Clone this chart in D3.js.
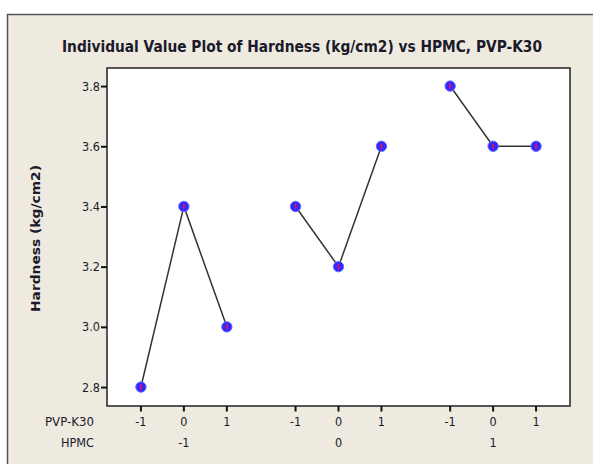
<!DOCTYPE html>
<html>
<head>
<meta charset="utf-8">
<script src="https://cdn.jsdelivr.net/npm/d3@7"></script>
<style>
  body { margin: 0; background: #fff; }
  svg { display: block; }
  text { font-family: "DejaVu Sans Condensed", "DejaVu Sans", sans-serif; }
</style>
</head>
<body>
<svg id="chart"></svg>
<script>
// data
const hpmcLevels = [-1, 0, 1];
const pvpLevels = [-1, 0, 1];
const hardness = [
  [2.8, 3.4, 3.0],   // HPMC -1
  [3.4, 3.2, 3.6],   // HPMC 0
  [3.8, 3.6, 3.6]    // HPMC 1
];
const yTicks = [2.8, 3.0, 3.2, 3.4, 3.6, 3.8];

const w = 593, h = 464;
const plot = { left: 107, right: 570, top: 68, bottom: 406 };
const groupGap = 0.6;

const svg = d3.select("#chart").attr("width", w).attr("height", h);

// beige frame
svg.append("rect").attr("x", 7.5).attr("y", 14.5).attr("width", 600).attr("height", 470)
  .attr("fill", "#eeeae0").attr("stroke", "#555").attr("stroke-width", 1.5);

// position of each (hpmc, pvp) cell along x
const pos = (g, k) => g * (pvpLevels.length + groupGap) + k;
const x = d3.scaleLinear()
  .domain([-0.79, pos(2, 2) + 0.79])
  .range([plot.left, plot.right]);
const y = d3.scaleLinear()
  .domain([2.737, 3.86])
  .range([plot.bottom, plot.top]);

// plot area
svg.append("rect")
  .attr("x", plot.left).attr("y", plot.top)
  .attr("width", plot.right - plot.left).attr("height", plot.bottom - plot.top)
  .attr("fill", "#fff").attr("stroke", "#222").attr("stroke-width", 1.5);

// title
svg.append("text")
  .attr("x", 302).attr("y", 52)
  .attr("text-anchor", "middle")
  .attr("font-size", 15).attr("font-weight", "bold").attr("fill", "#1a1a2a")
  .attr("textLength", 480).attr("lengthAdjust", "spacingAndGlyphs")
  .text("Individual Value Plot of Hardness (kg/cm2) vs HPMC, PVP-K30");

// y axis
const yAxis = d3.axisLeft(y).tickValues(yTicks).tickFormat(d3.format(".1f")).tickSize(6).tickPadding(1);
const gy = svg.append("g").attr("transform", `translate(${plot.left},0)`).call(yAxis);
gy.select(".domain").remove();
gy.selectAll(".tick line").attr("stroke", "#111").attr("stroke-width", 2);
gy.selectAll(".tick text").attr("font-size", 12.5).attr("fill", "#1a1a2a")
  .style("font-family", "'DejaVu Sans Condensed', sans-serif");

svg.append("text")
  .attr("transform", `translate(40,${(165 + 312) / 2}) rotate(-90)`)
  .attr("text-anchor", "middle")
  .attr("font-size", 13).attr("font-weight", "bold").attr("fill", "#1a1a2a")
  .attr("textLength", 147).attr("lengthAdjust", "spacingAndGlyphs")
  .text("Hardness (kg/cm2)");

// x axis: PVP-K30 ticks
const cells = [];
hpmcLevels.forEach((hv, g) => pvpLevels.forEach((pv, k) => cells.push({ g, k, hv, pv, val: hardness[g][k] })));

const gx = svg.append("g").attr("transform", `translate(0,${plot.bottom})`);
gx.selectAll("line").data(cells).enter().append("line")
  .attr("x1", d => x(pos(d.g, d.k))).attr("x2", d => x(pos(d.g, d.k)))
  .attr("y1", 0).attr("y2", 5.5)
  .attr("stroke", "#111").attr("stroke-width", 2);
gx.selectAll("text.pvp").data(cells).enter().append("text")
  .attr("class", "pvp")
  .attr("x", d => x(pos(d.g, d.k))).attr("y", 19.5)
  .attr("text-anchor", "middle").attr("font-size", 12.5).attr("fill", "#1a1a2a")
  .text(d => d.pv);
gx.selectAll("text.hpmc").data(hpmcLevels).enter().append("text")
  .attr("class", "hpmc")
  .attr("x", (d, g) => x(pos(g, 1))).attr("y", 40.5)
  .attr("text-anchor", "middle").attr("font-size", 12.5).attr("fill", "#1a1a2a")
  .text(d => d);

svg.append("text").attr("x", 94).attr("y", plot.bottom + 19.5)
  .attr("text-anchor", "end").attr("font-size", 12.5).attr("fill", "#1a1a2a")
  .attr("textLength", 49).attr("lengthAdjust", "spacingAndGlyphs").text("PVP-K30");
svg.append("text").attr("x", 94).attr("y", plot.bottom + 40.5)
  .attr("text-anchor", "end").attr("font-size", 12.5).attr("fill", "#1a1a2a")
  .attr("textLength", 33).attr("lengthAdjust", "spacingAndGlyphs").text("HPMC");

// connect lines within each HPMC group
const line = d3.line().x(d => x(pos(d.g, d.k))).y(d => y(d.val));
hpmcLevels.forEach((hv, g) => {
  svg.append("path")
    .datum(cells.filter(c => c.g === g))
    .attr("d", line).attr("fill", "none")
    .attr("stroke", "#333").attr("stroke-width", 1.5);
});

// points
const pts = svg.selectAll("g.pt").data(cells).enter().append("g")
  .attr("class", "pt")
  .attr("transform", d => `translate(${x(pos(d.g, d.k))},${y(d.val)})`);
pts.append("circle").attr("r", 5.2).attr("fill", "#2a2aff").attr("stroke", "#7070ff").attr("stroke-width", 1);
pts.append("line").attr("x1", 0).attr("x2", 0).attr("y1", -3).attr("y2", 3)
  .attr("stroke", "#e0106a").attr("stroke-width", 1.5);
pts.append("line").attr("x1", -2).attr("x2", 2).attr("y1", 0).attr("y2", 0)
  .attr("stroke", "#c01080").attr("stroke-width", 1);
</script>
</body>
</html>
